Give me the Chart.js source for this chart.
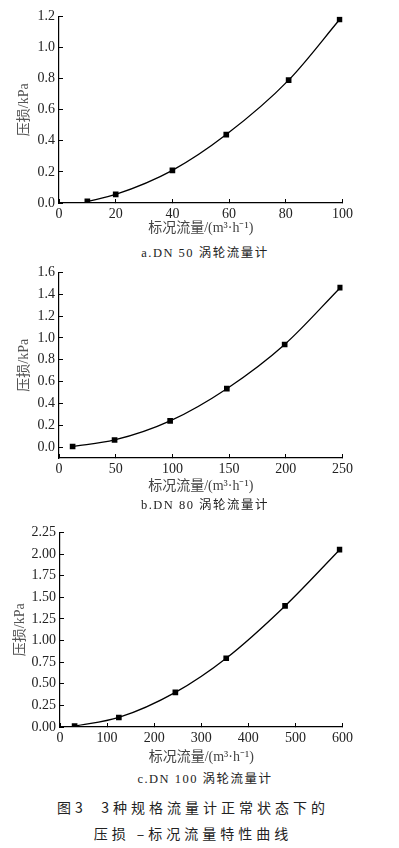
<!DOCTYPE html>
<html>
<head>
<meta charset="utf-8">
<script src="https://cdn.jsdelivr.net/npm/chart.js@4"></script>
<style>
  body { margin: 0; background: #fff; width: 399px; height: 848px; position: relative; overflow: hidden; }
  .box { position: absolute; left: 0; }
  .sub { position: absolute; left: 0; width: 410px; text-align: center; font: 12.5px "Liberation Serif", "Times New Roman", "Noto Sans CJK SC", serif; color: #222; letter-spacing: 1.5px; }
  .cap { position: absolute; left: 0; width: 386px; text-align: center; font: 14px "Noto Sans CJK SC", sans-serif; color: #222; letter-spacing: 4px; }
</style>
</head>
<body>
<div class="box" style="top:0px"><canvas id="chart_a" width="360" height="237"></canvas></div>
<div class="sub" style="top:242px">a.DN 50 涡轮流量计</div>
<div class="box" style="top:256px"><canvas id="chart_b" width="360" height="239"></canvas></div>
<div class="sub" style="top:494px">b.DN 80 涡轮流量计</div>
<div class="box" style="top:516px"><canvas id="chart_c" width="360" height="250"></canvas></div>
<div class="sub" style="top:768px">c.DN 100 涡轮流量计</div>
<div class="cap" style="top:797px">图3&nbsp;&nbsp;3种规格流量计正常状态下的</div>
<div class="cap" style="top:823px">压损 –标况流量特性曲线</div>
<script>
// flow (m3/h) and pressure loss (kPa)
const flowA = [10, 20, 40, 59, 81, 99];
const lossA = [0.01, 0.055, 0.21, 0.44, 0.79, 1.18];
const flowB = [12, 49, 98, 148, 199, 248];
const lossB = [0.005, 0.065, 0.24, 0.535, 0.94, 1.46];
const flowC = [31, 125, 245, 353, 478, 594];
const lossC = [0.01, 0.11, 0.40, 0.795, 1.40, 2.05];

// tick values
const xTicksA = [0, 20, 40, 60, 80, 100];
const yTicksA = [0, 0.2, 0.4, 0.6, 0.8, 1.0, 1.2];
const xTicksB = [0, 50, 100, 150, 200, 250];
const yTicksB = [0, 0.2, 0.4, 0.6, 0.8, 1.0, 1.2, 1.4, 1.6];
const xTicksC = [0, 100, 200, 300, 400, 500, 600];
const yTicksC = [0, 0.25, 0.5, 0.75, 1.0, 1.25, 1.5, 1.75, 2.0, 2.25];

const xTitle = "标况流量/(m³·h⁻¹)";
const yTitle = "压损/kPa";

const serif = "'Liberation Serif', 'Times New Roman', serif";
Chart.defaults.font.family = serif;

function makeChart(id, flow, loss, xTicks, yTicks, opt) {
  const ctx = document.getElementById(id).getContext("2d");
  const pts = flow.map((x, i) => ({ x: x, y: loss[i] }));
  const tickFont = { family: serif, size: opt.fontSize };
  const titleFont = { family: "'Liberation Serif', 'Noto Sans CJK SC', serif", size: 14 };
  return new Chart(ctx, {
    type: "scatter",
    data: {
      datasets: [{
        data: pts,
        showLine: true,
        cubicInterpolationMode: "monotone",
        borderColor: "#000",
        borderWidth: 1.3,
        pointStyle: "rect",
        pointRadius: 4,
        pointBackgroundColor: "#000",
        pointBorderColor: "#000",
        pointBorderWidth: 0,
      }],
    },
    options: {
      responsive: false,
      animation: false,
      layout: { padding: { left: opt.padLeft, top: opt.padTop, right: 12, bottom: 0 } },
      plugins: { legend: { display: false }, tooltip: { enabled: false } },
      scales: {
        x: {
          type: "linear",
          min: 0,
          max: xTicks[xTicks.length - 1],
          afterBuildTicks: (s) => { s.ticks = xTicks.map((v) => ({ value: v })); },
          ticks: { color: "#222", font: tickFont, padding: 7, maxRotation: 0, autoSkip: false },
          grid: { drawOnChartArea: false, drawTicks: true, tickLength: -4, color: "#000" },
          border: { color: "#000", width: 1.2 },
          title: { display: true, text: xTitle, color: "#444", font: titleFont, padding: 0 },
          afterFit: (s) => { s.height = opt.xHeight; },
        },
        y: {
          min: opt.yMin,
          max: yTicks[yTicks.length - 1],
          afterBuildTicks: (s) => { s.ticks = yTicks.map((v) => ({ value: v })); },
          ticks: {
            color: "#222", font: tickFont, padding: 8, autoSkip: false,
            callback: (v) => v.toFixed(opt.dec),
          },
          grid: { drawOnChartArea: false, drawTicks: true, tickLength: -4, color: "#000" },
          border: { color: "#000", width: 1.2 },
          title: { display: true, text: yTitle, color: "#555", font: titleFont, padding: 0 },
          afterFit: (s) => { s.width = opt.yWidth; },
        },
      },
    },
  });
}

const chart_a = makeChart("chart_a", flowA, lossA, xTicksA, yTicksA, {
  yMin: 0, dec: 1, padLeft: 16, padTop: 14, yWidth: 43, xHeight: 34, fontSize: 14,
});
const chart_b = makeChart("chart_b", flowB, lossB, xTicksB, yTicksB, {
  yMin: -0.1, dec: 1, padLeft: 16, padTop: 15, yWidth: 43, xHeight: 37, fontSize: 14,
});
const chart_c = makeChart("chart_c", flowC, lossC, xTicksC, yTicksC, {
  yMin: 0, dec: 2, padLeft: 12, padTop: 15, yWidth: 48, xHeight: 39, fontSize: 14,
});
</script>
</body>
</html>
